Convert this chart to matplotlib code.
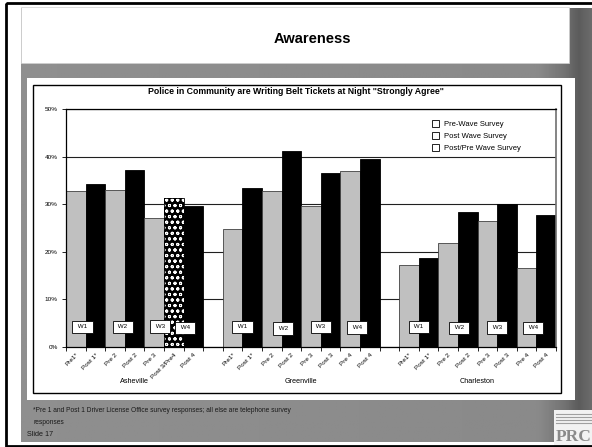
import numpy as np
import matplotlib
matplotlib.use("Agg")
import matplotlib.pyplot as plt
from matplotlib.patches import Rectangle, Patch

plt.rcParams["font.family"] = ["Liberation Sans", "DejaVu Sans"]
plt.rcParams["hatch.linewidth"] = 0.7

# --- data (percent "strongly agree") ---
asheville_labels = ["Pre1*", "Post 1*", "Pre 2", "Post 2", "Pre 3", "Post 3/Pre4", "Post 4"]
asheville_kinds = ["pre", "post", "pre", "post", "pre", "postpre", "post"]
asheville_vals = [32.8, 34.2, 33.0, 37.2, 27.1, 31.3, 29.6]

greenville_labels = ["Pre1*", "Post 1*", "Pre 2", "Post 2", "Pre 3", "Post 3", "Pre 4", "Post 4"]
greenville_kinds = ["pre", "post"] * 4
greenville_vals = [24.9, 33.4, 32.7, 41.3, 29.6, 36.5, 37.1, 39.5]

charleston_labels = ["Pre1*", "Post 1*", "Pre 2", "Post 2", "Pre 3", "Post 3", "Pre 4", "Post 4"]
charleston_kinds = ["pre", "post"] * 4
charleston_vals = [17.2, 18.6, 21.8, 28.4, 26.5, 30.0, 16.5, 27.7]

cities = ["Asheville", "Greenville", "Charleston"]
wave_labels = ["W1", "W2", "W3", "W4"]
legend_labels = ["Pre-Wave Survey", "Post Wave Survey", "Post/Pre Wave Survey"]

W, H = 592, 447
fig = plt.figure(figsize=(W / 100, H / 100), dpi=100)
fig.patch.set_facecolor("white")

# slide background, drawn in pixel coordinates
bg = fig.add_axes([0, 0, 1, 1])
bg.set_xlim(0, W)
bg.set_ylim(H, 0)
bg.axis("off")

xs = np.linspace(21, W, 200)
shade = np.interp(xs, [21, 540, 566, 580, 592], [0.56, 0.54, 0.45, 0.36, 0.42])
bg.imshow(np.tile(shade, (10, 1)), extent=(21, W, 442, 8), cmap="gray",
          vmin=0, vmax=1, aspect="auto", zorder=0)
bg.add_patch(Rectangle((21, 7), 548, 56, facecolor="white", edgecolor="#d0d0d0", lw=0.5, zorder=1))
bg.add_patch(Rectangle((27, 78), 548, 322, facecolor="white", edgecolor="none", zorder=1))
bg.add_patch(Rectangle((33, 85), 528, 308, facecolor="white", edgecolor="black", lw=1.0, zorder=2))
bg.add_patch(Rectangle((6, 3), 590, 443, facecolor="none", edgecolor="black", lw=2.0, zorder=3))
bg.add_patch(Rectangle((554, 410), 38, 36, facecolor="#f2f2f2", edgecolor="none", zorder=2))
for yy in [414, 417, 420, 423]:
    bg.plot([556, 592], [yy, yy], color="#a0a0a0", lw=0.8, zorder=3)
bg.text(574, 437, "PRC", family="Liberation Serif", fontsize=12.5, weight="bold",
        color="#8a8a8a", ha="center", va="center", zorder=4)

bg.text(312, 39, "Awareness", fontsize=10.5, weight="bold", ha="center", va="center", zorder=4)
bg.text(296, 91, 'Police in Community are Writing Belt Tickets at Night "Strongly Agree"',
        fontsize=6.3, weight="bold", ha="center", va="center", zorder=4)
bg.text(33, 411, "*Pre 1 and Post 1 Driver License Office survey responses; all else are telephone survey",
        fontsize=4.8, color="#1a1a1a", ha="left", va="center", zorder=4)
bg.text(33, 422, "responses", fontsize=4.8, color="#1a1a1a", ha="left", va="center", zorder=4)
bg.text(27, 435, "Slide 17", fontsize=5.2, color="#1a1a1a", ha="left", va="center", zorder=4)

# --- chart ---
left, right, top, bottom = 66, 556, 109.3, 346.8
ax = fig.add_axes([left / W, 1 - bottom / H, (right - left) / W, (bottom - top) / H])
ax.set_facecolor("white")

groups = [
    (asheville_labels, asheville_kinds, asheville_vals),
    (greenville_labels, greenville_kinds, greenville_vals),
    (charleston_labels, charleston_kinds, charleston_vals),
]

tick_pos, tick_lab, centers, starts = [], [], [], []
pos = 0
for labels, kinds, vals in groups:
    starts.append(pos)
    for lab, kind, v in zip(labels, kinds, vals):
        if kind == "pre":
            ax.bar(pos, v, width=1.0, color="#c0c0c0", edgecolor="#404040", lw=0.6, zorder=2)
        elif kind == "post":
            ax.bar(pos, v, width=1.0, color="black", edgecolor="black", lw=0.6, zorder=2)
        else:
            ax.bar(pos, v, width=1.0, color="black", edgecolor="white", hatch="ooo", lw=0, zorder=2)
            ax.bar(pos, v, width=1.0, fill=False, edgecolor="black", lw=0.6, zorder=3)
        tick_pos.append(pos)
        tick_lab.append(lab)
        pos += 1
    centers.append(starts[-1] + (len(labels) - 1) / 2)
    pos += 1  # empty slot between cities
n_slots = pos - 1

ax.set_xlim(-0.5, n_slots - 0.5)
ax.set_ylim(0, 50)
ax.set_yticks(range(0, 51, 10))
ax.set_yticklabels([f"{t}%" for t in range(0, 51, 10)], fontsize=4.6)
ax.yaxis.grid(True, color="#202020", lw=0.8, zorder=0)
ax.set_axisbelow(True)

ax.set_xticks(np.arange(-0.5, n_slots, 1.0))
ax.set_xticklabels([])
ax.set_xticks(tick_pos, minor=True)
ax.set_xticklabels(tick_lab, minor=True, rotation=45, ha="right", va="top",
                   rotation_mode="anchor", fontsize=4.6)
ax.tick_params(axis="x", which="major", length=3, width=0.6, direction="out")
ax.tick_params(axis="x", which="minor", length=0, pad=4)
ax.tick_params(axis="y", length=3, width=0.6, pad=3)

for sp in ["left", "bottom", "top"]:
    ax.spines[sp].set_color("black")
    ax.spines[sp].set_linewidth(0.9)
ax.spines["right"].set_color("#707070")
ax.spines["right"].set_linewidth(1.2)

for name, c in zip(cities, centers):
    ax.text(c, -0.148, name, transform=ax.get_xaxis_transform(), fontsize=5.2,
            ha="center", va="center")

# wave boxes sit between each pre/post pair
wave_shift = [[-0.15, -0.1, -0.2, 0.07], [0, 0.07, 0, -0.15], [0, 0.05, 0, -0.17]]
wave_height = [[4.2, 4.2, 4.3, 4.0], [4.2, 3.9, 4.2, 4.1], [4.2, 4.0, 4.1, 4.0]]
for g, s0 in enumerate(starts):
    for k, wl in enumerate(wave_labels):
        if g == 0 and k == 3:
            x = s0 + 5.5
        else:
            x = s0 + 2 * k + 0.5
        ax.text(x + wave_shift[g][k], wave_height[g][k], f" {wl} ", fontsize=4.5, ha="center",
                va="center", zorder=5,
                bbox=dict(boxstyle="square,pad=0.6", facecolor="white", edgecolor="black", lw=0.6))

handles = [Patch(facecolor="white", edgecolor="black", lw=0.6) for _ in legend_labels]
fig.legend(handles, legend_labels, loc="upper left", bbox_to_anchor=(428 / W, 1 - 116 / H),
           frameon=False, fontsize=5.5, handlelength=1.0, handleheight=1.0,
           handletextpad=0.6, labelspacing=0.55, borderpad=0)

fig.savefig("out.png", dpi=100)
